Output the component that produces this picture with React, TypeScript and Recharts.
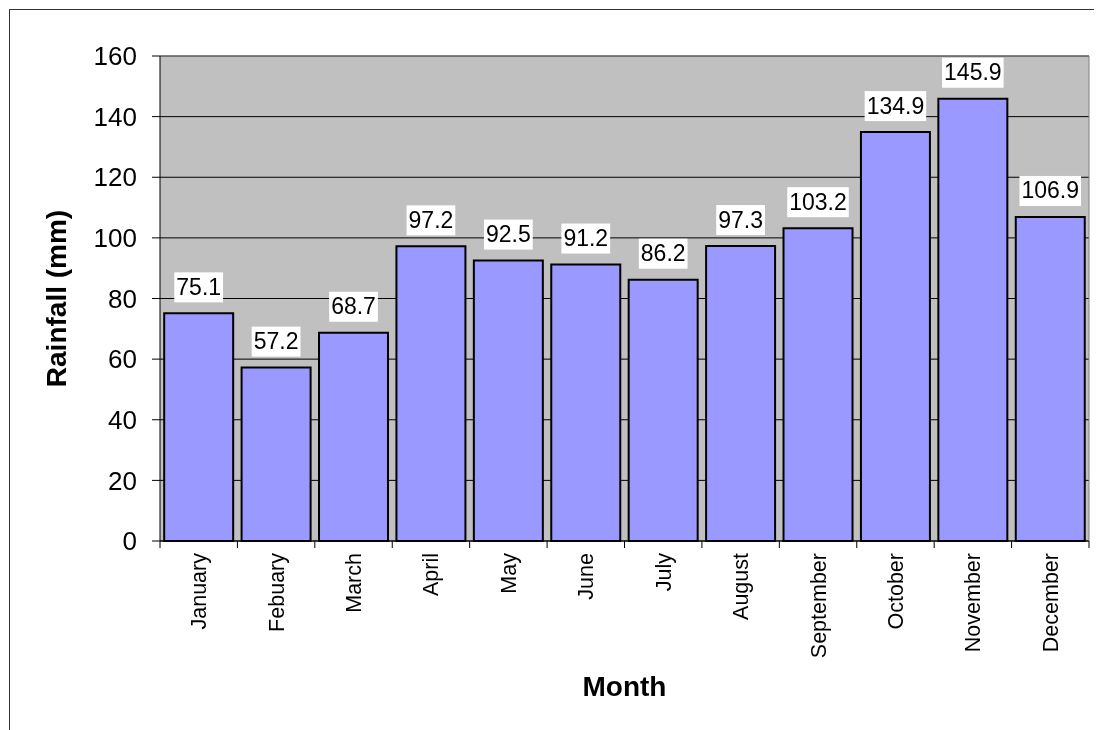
import React from 'react';
import { BarChart, Bar, XAxis, YAxis, CartesianGrid, LabelList, ReferenceLine } from 'recharts';

const months = ['January', 'Febuary', 'March', 'April', 'May', 'June', 'July', 'August', 'September', 'October', 'November', 'December'];
const rainfall = [75.1, 57.2, 68.7, 97.2, 92.5, 91.2, 86.2, 97.3, 103.2, 134.9, 145.9, 106.9];
const yTicks = [0, 20, 40, 60, 80, 100, 120, 140, 160];
const yTitle = 'Rainfall (mm)';
const xTitle = 'Month';

const data = months.map((m, i) => ({ month: m, rainfall: rainfall[i] }));

const FONT = '"Liberation Sans", Arial, sans-serif';
const CHART_W = 1084;
const CHART_H = 712;
const Y_AXIS_W = 150;
const RIGHT_W = 5;
const PLOT_W = CHART_W - Y_AXIS_W - RIGHT_W;
const BAND = PLOT_W / months.length;

const XTick = (props: any) => {
  const { x, y, payload, index } = props;
  const left = x - BAND / 2;
  return (
    <g>
      <line x1={left} y1={y} x2={left} y2={y + 7} stroke="#000" strokeWidth={1} />
      {index === months.length - 1 && (
        <line x1={x + BAND / 2} y1={y} x2={x + BAND / 2} y2={y + 7} stroke="#000" strokeWidth={1} />
      )}
      <text
        x={x}
        y={y + 12}
        transform={`rotate(-90, ${x}, ${y + 12})`}
        textAnchor="end"
        dy="0.35em"
        fontSize={21.5}
        fontFamily={FONT}
        fill="#000"
      >
        {payload.value}
      </text>
    </g>
  );
};

const charW = (c: string) => (c === '.' ? 0.278 : 0.556);

const ValueLabel = (props: any) => {
  const { x, y, width, value } = props;
  const fs = 23;
  const str = String(value);
  const tw = str.split('').reduce((s, c) => s + charW(c) * fs, 0);
  const cx = x + width / 2;
  const bw = tw + 4;
  return (
    <g>
      <rect x={cx - bw / 2} y={y - 41} width={bw} height={30} fill="#fff" />
      <text x={cx} y={y - 18.5} textAnchor="middle" fontSize={fs} fontFamily={FONT} fill="#000">
        {str}
      </text>
    </g>
  );
};

const YTitle = (props: any) => {
  const vb = props.viewBox || { x: 0, y: 46, width: 150, height: 485 };
  const cx = vb.x + 56;
  const cy = vb.y + vb.height / 2;
  return (
    <text
      x={cx}
      y={cy}
      transform={`rotate(-90, ${cx}, ${cy})`}
      textAnchor="middle"
      fontSize={28}
      fontWeight="bold"
      fontFamily={FONT}
      fill="#000"
    >
      {yTitle}
    </text>
  );
};

const XTitle = (props: any) => {
  const vb = props.viewBox || { x: 150, y: 531, width: 929, height: 181 };
  return (
    <text
      x={vb.x + vb.width / 2}
      y={vb.y + 155}
      textAnchor="middle"
      fontSize={28}
      fontWeight="bold"
      fontFamily={FONT}
      fill="#000"
    >
      {xTitle}
    </text>
  );
};

export default function App() {
  return (
    <div
      style={{
        position: 'fixed',
        left: 9,
        top: 9,
        width: 1085,
        height: 730,
        borderTop: '1px solid #333',
        borderLeft: '1px solid #333',
        boxSizing: 'border-box',
        fontFamily: FONT,
      }}
    >
      <BarChart
        width={CHART_W}
        height={CHART_H}
        data={data}
        margin={{ top: 46, right: 0, bottom: 0, left: 0 }}
        barCategoryGap="5.4%"
      >
        <CartesianGrid horizontal vertical={false} stroke="#000" fill="#C0C0C0" fillOpacity={1} />
        <ReferenceLine y={160} stroke="#808080" strokeWidth={1} />
        <XAxis
          dataKey="month"
          interval={0}
          height={181}
          tickSize={0}
          tickMargin={0}
          tickLine={false}
          axisLine={{ stroke: '#000', strokeWidth: 1 }}
          tick={<XTick />}
          label={<XTitle />}
        />
        <YAxis
          width={Y_AXIS_W}
          domain={[0, 160]}
          ticks={yTicks}
          interval={0}
          tickSize={8}
          tickMargin={15}
          tickLine={{ stroke: '#000' }}
          axisLine={{ stroke: '#000', strokeWidth: 1 }}
          tick={{ fontSize: 26, fill: '#000', fontFamily: FONT }}
          label={<YTitle />}
        />
        <YAxis
          yAxisId="right"
          orientation="right"
          width={RIGHT_W}
          domain={[0, 160]}
          tick={false}
          tickLine={false}
          axisLine={{ stroke: '#808080', strokeWidth: 1 }}
        />
        <Bar dataKey="rainfall" fill="#9999FF" stroke="#000" strokeWidth={2} isAnimationActive={false}>
          <LabelList dataKey="rainfall" content={<ValueLabel />} />
        </Bar>
      </BarChart>
    </div>
  );
}
